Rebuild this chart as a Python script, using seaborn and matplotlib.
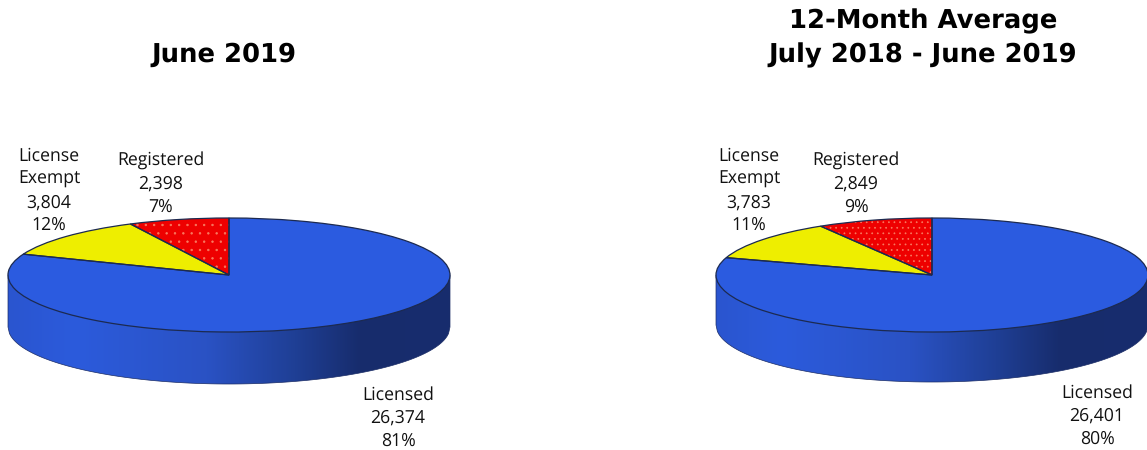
import numpy as np
import matplotlib
matplotlib.use("Agg")
import matplotlib.pyplot as plt
from matplotlib.colors import LinearSegmentedColormap
from matplotlib.patches import Polygon
import seaborn as sns

W, H = 1147, 450

categories = ["Registered", "License\nExempt", "Licensed"]
june_values = [2398, 3804, 26374]
june_pct = ["7%", "12%", "81%"]
june_labels = ["2,398", "3,804", "26,374"]
avg_values = [2849, 3783, 26401]
avg_pct = ["9%", "11%", "80%"]
avg_labels = ["2,849", "3,783", "26,401"]
slice_colors = ["#ee0000", "#eeee00", "#2b5be0"]
titles = ["June 2019", "12-Month Average\nJuly 2018 - June 2019"]

sns.set_theme(style="white")
plt.rcParams["font.family"] = ["Open Sans", "DejaVu Sans"]
plt.rcParams["hatch.linewidth"] = 0.5
plt.rcParams["text.hinting"] = "no_hinting"

side_cmap = LinearSegmentedColormap.from_list(
    "side", [(0, "#2a55cf"), (0.15, "#2c5bdc"), (0.45, "#2a52c4"), (0.65, "#1f3f95"),
             (0.8, "#172c6c"), (1, "#182d6e")])

fig = plt.figure(figsize=(W / 100, H / 100), dpi=100, facecolor="white")


def draw_pie(cx, cy, rx, ry, depth, values, labels, pct, title, title_x, title_y, text_pos, dots):
    bottom = -(ry + depth) / ry
    ax = fig.add_axes([(cx - rx) / W, 1 - (cy + depth + ry) / H, 2 * rx / W, (2 * ry + depth) / H])
    # extruded side
    xs = np.linspace(-1, 1, 300)
    low = -np.sqrt(1 - xs ** 2)
    poly = np.r_[np.c_[xs, np.zeros_like(xs)], np.c_[xs[::-1], low[::-1] - depth / ry]]
    patch = Polygon(poly, closed=True, facecolor="none", edgecolor="#1a2c66", linewidth=0.5, zorder=1)
    ax.add_patch(patch)
    grad = ax.imshow(np.linspace(0, 1, 256)[None, :], extent=[-1, 1, bottom, 1], aspect="auto",
                     cmap=side_cmap, zorder=0.5)
    grad.set_clip_path(patch)
    # top face with dotted slice
    wedges, _ = ax.pie(values, colors=slice_colors, startangle=90, counterclock=True, radius=1,
                       wedgeprops=dict(linewidth=0, zorder=2))
    wedges[0].set_hatch(dots)
    wedges[0].set_edgecolor("#f87a60")
    outlines, _ = ax.pie(values, colors=["none"] * 3, startangle=90, counterclock=True, radius=1,
                         wedgeprops=dict(linewidth=0.9, edgecolor="#1c2a50", zorder=3))
    ax.set_aspect("auto")
    ax.set_xlim(-1, 1)
    ax.set_ylim(bottom, 1)
    ax.axis("off")
    for w in list(wedges) + list(outlines):
        w.set_clip_on(False)
    patch.set_clip_on(False)

    for name, val, p, (tx, ty) in zip(categories, labels, pct, text_pos):
        fig.text(tx / W, 1 - ty / H, f"{name}\n{val}\n{p}", ha="center", va="center", fontsize=12.7,
                 color="#111111", linespacing=1.37)
    fig.text(title_x / W, 1 - title_y / H, title, ha="center", va="center", fontsize=18.6, fontweight="bold",
             family="DejaVu Sans", color="black", linespacing=1.42)


draw_pie(229, 275, 221, 57, 52, june_values, june_labels, june_pct, titles[0], 224, 55,
         [(161, 184), (49, 191), (398, 418)], "..")
draw_pie(932, 275, 216, 57, 50, avg_values, avg_labels, avg_pct, titles[1], 923, 38.5,
         [(856, 184), (749, 191), (1097, 416)], "...")

fig.savefig("out.png", dpi=100, facecolor="white")
